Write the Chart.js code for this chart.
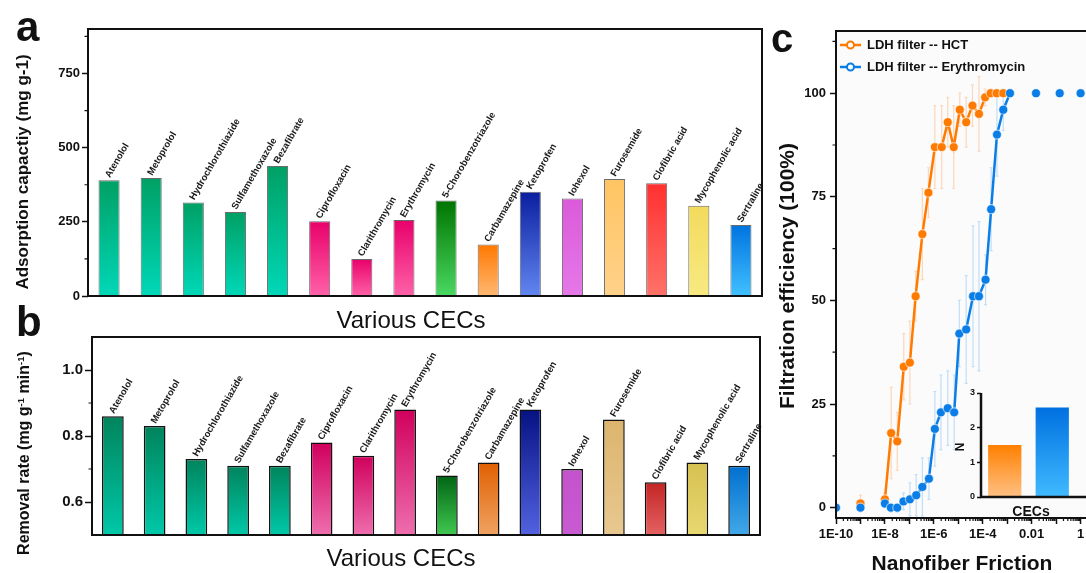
<!DOCTYPE html>
<html>
<head>
<meta charset="utf-8">
<script src="https://cdn.jsdelivr.net/npm/chart.js@4.4.1/dist/chart.umd.min.js"></script>
<style>
html, body { margin: 0; padding: 0; width: 1086px; height: 573px; overflow: hidden; background: #fff; }
body { position: relative; font-family: Arial, "Liberation Sans", sans-serif; color: #111; }
canvas { position: absolute; }
.t { position: absolute; white-space: nowrap; line-height: 1; }
.ctr { transform: translate(-50%, -50%); }
.rot { transform: translate(-50%, -50%) rotate(-90deg); }
.b { font-weight: bold; }
sup { font-size: 0.6em; vertical-align: 0.6em; }
</style>
</head>
<body>
<canvas id="chartA" style="left:0px;top:0px" width="780" height="300"></canvas>
<canvas id="chartB" style="left:0px;top:310px" width="780" height="240"></canvas>
<canvas id="chartC" style="left:770px;top:0px" width="330" height="573"></canvas>
<canvas id="chartN" style="left:950px;top:380px" width="136" height="130"></canvas>

<div class="t b" style="left:16px;top:6px;font-size:42px">a</div>
<div class="t b" style="left:16px;top:301px;font-size:42px">b</div>
<div class="t b" style="left:771px;top:18px;font-size:40px">c</div>
<div class="t b rot" style="left:22px;top:172px;font-size:17px">Adsorption capactiy (mg g-1)</div>
<div class="t b rot" style="left:24px;top:453px;font-size:16px">Removal rate (mg g<sup>-1</sup> min<sup>-1</sup>)</div>
<div class="t ctr" style="left:411px;top:320px;font-size:24px">Various CECs</div>
<div class="t ctr" style="left:401px;top:558px;font-size:24px">Various CECs</div>
<div class="t b rot" style="left:786px;top:276px;font-size:21px">Filtration efficiency (100%)</div>
<div class="t b ctr" style="left:962px;top:562px;font-size:21px">Nanofiber Friction</div>
<div class="t b rot" style="left:960px;top:447px;font-size:12px">N</div>
<div class="t b ctr" style="left:1031px;top:511px;font-size:14px">CECs</div>

<script>
// panel a / b
const cecs = ['Atenolol', 'Metoprolol', 'Hydrochlorothiazide', 'Sulfamethoxazole', 'Bezafibrate',
  'Ciprofloxacin', 'Clarithromycin', 'Erythromycin', '5-Chorobenzotriazole', 'Carbamazepine',
  'Ketoprofen', 'Iohexol', 'Furosemide', 'Clofibric acid', 'Mycophenolic acid', 'Sertraline'];
const adsorption = [390, 398, 315, 283, 438, 252, 125, 256, 322, 174, 351, 329, 394, 380, 304, 239];
const removal = [0.86, 0.83, 0.73, 0.71, 0.71, 0.78, 0.74, 0.88, 0.68, 0.72, 0.88, 0.70, 0.85, 0.66, 0.72, 0.71];
const adsorptionTicks = [0, 250, 500, 750];
const removalTicks = [0.6, 0.8, 1.0];
const removalTickLabels = ['0.6', '0.8', '1.0'];

// panel c
const hctFriction = [1e-9, 1e-8, 1.8e-8, 3.2e-8, 5.9e-8, 1.05e-7, 1.8e-7, 3.4e-7, 6e-7, 1.1e-6, 2.1e-6,
  3.7e-6, 6.5e-6, 1.15e-5, 2.1e-5, 3.8e-5, 7e-5, 1.25e-4, 2.1e-4, 3.7e-4, 6.9e-4];
const hctEff = [1, 2, 18, 16, 34, 35, 51, 66, 76, 87, 87, 93, 87, 96, 93, 97, 95, 99, 100, 100, 100];
const hctErr = [2, 1.5, 11, 7, 8, 10, 6, 11, 6, 10, 10, 6, 10, 4, 6, 5, 9, 2, 1, 1, 0.5];
const eryFriction = [1e-10, 1e-9, 1e-8, 1.75e-8, 3.2e-8, 5.75e-8, 1.05e-7, 1.9e-7, 3.4e-7, 6.3e-7,
  1.1e-6, 1.95e-6, 3.7e-6, 6.8e-6, 1.1e-5, 2.1e-5, 4e-5, 7e-5, 1.3e-4, 2.2e-4, 3.8e-4, 6.9e-4,
  1.3e-3, 1.5e-2, 1.4e-1, 1];
const eryEff = [0, 0, 1, 0, 0, 1.5, 2, 3, 5, 7, 19, 23, 24, 23, 42, 43, 51, 51, 55, 72, 90, 96, 100, 100, 100, 100];
const eryErr = [0, 0.5, 1, 1, 1, 2, 4, 5, 7, 5, 9, 9, 9, 9, 8, 13, 17, 18, 6, 10, 10, 5, 1, 0, 0, 0];
const hctJoined = [1, 20];   // first / last index joined by the line
const eryJoined = [2, 22];
const effTicks = [0, 25, 50, 75, 100];
const frictionTicks = [1e-10, 1e-8, 1e-6, 1e-4, 1e-2, 1];
const frictionTickLabels = ['1E-10', '1E-8', '1E-6', '1E-4', '0.01', '1'];

// inset
const insetCats = ['LDH filter -- HCT', 'LDH filter -- Erythromycin'];
const insetN = [1.5, 2.58];
const insetTicks = [0, 1, 2, 3];

// colours (top of bar -> bottom of bar)
const topA = ['#00a064', '#00a064', '#00a064', '#00a064', '#00a064', '#e8006a', '#e8006a', '#e8006a',
  '#007400', '#ff7800', '#0a1ea0', '#da5ada', '#ffc462', '#ff3030', '#f2da5c', '#0074e0'];
const botA = ['#00d8b8', '#00d8b8', '#00d8b8', '#00d8b8', '#00d8b8', '#ff62a8', '#ff62a8', '#ff62a8',
  '#4ad862', '#ffb872', '#6286f0', '#e678e8', '#ffd28a', '#ff7268', '#f8ea82', '#40c0ff'];
const topB = ['#00845c', '#00845c', '#00845c', '#00845c', '#00845c', '#d0005c', '#d0005c', '#d0005c',
  '#006414', '#e06000', '#061282', '#c452cc', '#dcb46c', '#c42424', '#d6c052', '#0070d0'];
const botB = ['#00c8a8', '#00c8a8', '#00c8a8', '#00c8a8', '#00c8a8', '#ee6eae', '#ee6eae', '#ee6eae',
  '#40c850', '#f0a262', '#5262e0', '#c85ad2', '#e8c890', '#e46262', '#e8d870', '#42a8e8'];
const orange = '#ff7a00';
const blue = '#0a7ee6';

Chart.defaults.font.family = 'Arial, "Liberation Sans", sans-serif';
Chart.defaults.color = '#111';

function barGradient(tops, bottoms) {
  return (ctx) => {
    const chart = ctx.chart;
    const area = chart.chartArea;
    if (!area || ctx.raw === undefined) return tops[ctx.dataIndex];
    const y = chart.scales.y.getPixelForValue(ctx.raw);
    const g = chart.ctx.createLinearGradient(0, y, 0, area.bottom);
    g.addColorStop(0, tops[ctx.dataIndex]);
    g.addColorStop(1, bottoms[ctx.dataIndex]);
    return g;
  };
}

function fixSize(prop, px) {
  return (s) => {
    s[prop] = px;
    s.paddingLeft = 0; s.paddingRight = 0; s.paddingTop = 0; s.paddingBottom = 0;
  };
}

// frame round the plot + minor ticks
const frame = {
  id: 'frame',
  beforeDatasetsDraw(chart, args, o) {
    if (!o.fill) return;
    const a = chart.chartArea;
    chart.ctx.save();
    chart.ctx.fillStyle = o.fill;
    chart.ctx.fillRect(a.left, a.top, a.width, a.height);
    chart.ctx.restore();
  },
  afterDraw(chart, args, o) {
    const { ctx, chartArea: a } = chart;
    ctx.save();
    ctx.strokeStyle = '#111';
    ctx.lineWidth = o.width || 2;
    ctx.beginPath();
    if (o.sides === 'lb') {
      ctx.moveTo(a.left, a.top); ctx.lineTo(a.left, a.bottom); ctx.lineTo(chart.width, a.bottom);
    } else {
      ctx.rect(a.left, a.top, a.width, a.height);
    }
    ctx.stroke();
    ctx.lineWidth = 1.2;
    ctx.beginPath();
    (o.minorY || []).forEach(v => {
      const y = chart.scales.y.getPixelForValue(v);
      ctx.moveTo(a.left - 3.5, y); ctx.lineTo(a.left, y);
    });
    (o.minorX || []).forEach(v => {
      const x = chart.scales.x.getPixelForValue(v);
      if (x > a.left && x < a.right) { ctx.moveTo(x, a.bottom); ctx.lineTo(x, a.bottom + 3); }
    });
    ctx.stroke();
    ctx.restore();
  }
};

// slanted names above the bars
const barNames = {
  id: 'barNames',
  afterDatasetsDraw(chart, args, o) {
    const ctx = chart.ctx;
    ctx.save();
    ctx.font = o.font;
    ctx.fillStyle = '#1a1a1a';
    chart.getDatasetMeta(0).data.forEach((bar, i) => {
      ctx.save();
      ctx.translate(bar.x + 1, bar.y - 2);
      ctx.rotate(-Math.PI / 3);
      ctx.fillText(chart.data.labels[i], 0, 0);
      ctx.restore();
    });
    ctx.restore();
  }
};

const tickFont = (size) => ({ weight: 'bold', size: size });

function barChart(id, values, tops, bottoms, yMin, yMax, ticks, labels, minor, pad, yWidth, xHeight) {
  return new Chart(document.getElementById(id), {
    type: 'bar',
    data: {
      labels: cecs,
      datasets: [{
        data: values,
        backgroundColor: barGradient(tops, bottoms),
        borderColor: id === 'chartA' ? 'rgba(70,70,70,0.8)' : '#111',
        borderWidth: id === 'chartA' ? 1 : 1.5,
        barPercentage: id === 'chartA' ? 0.5 : 0.52,
        categoryPercentage: 1
      }]
    },
    options: {
      responsive: false,
      animation: false,
      layout: { padding: pad },
      plugins: {
        legend: { display: false },
        tooltip: { enabled: false },
        frame: { width: 2, minorY: minor },
        barNames: { font: 'bold 9.5px Arial, "Liberation Sans", sans-serif' }
      },
      scales: {
        x: {
          ticks: { display: false },
          grid: { display: false },
          border: { display: false },
          afterFit: fixSize('height', xHeight)
        },
        y: {
          min: yMin,
          max: yMax,
          afterBuildTicks: (s) => { s.ticks = ticks.map(v => ({ value: v })); },
          afterFit: fixSize('width', yWidth),
          ticks: {
            font: tickFont(id === 'chartA' ? 13 : 15),
            color: '#111',
            padding: 2,
            callback: (v, i) => labels ? labels[i] : v
          },
          grid: { drawOnChartArea: false, tickLength: id === 'chartA' ? 6 : 7, color: '#111', tickWidth: 1.5 },
          border: { display: false }
        }
      }
    },
    plugins: [frame, barNames]
  });
}

barChart('chartA', adsorption, topA, botA, 0, 900, adsorptionTicks, null, [125, 375, 625, 875],
  { top: 29, right: 18, left: 0, bottom: 0 }, 88, 4);
barChart('chartB', removal, topB, botB, 0.5, 1.1, removalTicks, removalTickLabels, [0.7, 0.9],
  { top: 27, right: 20, left: 0, bottom: 0 }, 92, 15);

// panel c
function points(xs, ys, keep) {
  return xs.map((x, i) => ({ x: x, y: ys[i] })).filter((p, i) => keep(i));
}
const inside = (r) => (i) => i >= r[0] && i <= r[1];
const outside = (r) => (i) => i < r[0] || i > r[1];

const errorBars = {
  id: 'errorBars',
  beforeDatasetsDraw(chart, args, o) {
    const { ctx, scales } = chart;
    ctx.save();
    ctx.lineWidth = 1.2;
    o.series.forEach(s => {
      ctx.strokeStyle = s.color;
      ctx.beginPath();
      s.xs.forEach((xv, i) => {
        if (!s.err[i]) return;
        const x = scales.x.getPixelForValue(xv);
        const y1 = scales.y.getPixelForValue(s.ys[i] - s.err[i]);
        const y2 = scales.y.getPixelForValue(s.ys[i] + s.err[i]);
        ctx.moveTo(x, y1); ctx.lineTo(x, y2);
        ctx.moveTo(x - 1.5, y1); ctx.lineTo(x + 1.5, y1);
        ctx.moveTo(x - 1.5, y2); ctx.lineTo(x + 1.5, y2);
      });
      ctx.stroke();
    });
    ctx.restore();
  }
};

const lineLegend = {
  id: 'lineLegend',
  afterDraw(chart) {
    const { ctx, chartArea: a } = chart;
    ctx.save();
    ctx.font = 'bold 13px Arial, "Liberation Sans", sans-serif';
    ctx.textBaseline = 'middle';
    chart.data.datasets.filter(d => d.label).forEach((d, i) => {
      const y = a.top + 14 + i * 22;
      ctx.strokeStyle = d.borderColor;
      ctx.lineWidth = 2.5;
      ctx.beginPath(); ctx.moveTo(a.left + 4, y); ctx.lineTo(a.left + 25, y); ctx.stroke();
      ctx.fillStyle = '#fff';
      ctx.lineWidth = 2;
      ctx.beginPath(); ctx.arc(a.left + 14.5, y, 3.5, 0, Math.PI * 2); ctx.fill(); ctx.stroke();
      ctx.fillStyle = '#111';
      ctx.fillText(d.label, a.left + 31, y);
    });
    ctx.restore();
  }
};

const pointStyle = (c) => ({
  pointRadius: 4.5,
  pointBackgroundColor: c,
  pointBorderColor: 'rgba(255,255,255,0.55)',
  pointBorderWidth: 1.2
});

const minorFriction = [];
for (let k = -10; k < 1; k++) {
  for (let m = 2; m <= 9; m++) minorFriction.push(m * Math.pow(10, k));
}

new Chart(document.getElementById('chartC'), {
  type: 'line',
  data: {
    datasets: [
      Object.assign({ label: 'LDH filter -- HCT', data: points(hctFriction, hctEff, inside(hctJoined)),
        borderColor: orange, borderWidth: 2.5, order: 1 }, pointStyle(orange)),
      Object.assign({ label: 'LDH filter -- Erythromycin', data: points(eryFriction, eryEff, inside(eryJoined)),
        borderColor: blue, borderWidth: 2.5, order: 0 }, pointStyle(blue)),
      Object.assign({ label: '', data: points(hctFriction, hctEff, outside(hctJoined)),
        showLine: false, borderColor: orange, order: 1 }, pointStyle(orange)),
      Object.assign({ label: '', data: points(eryFriction, eryEff, outside(eryJoined)),
        showLine: false, borderColor: blue, order: 0 }, pointStyle(blue))
    ]
  },
  options: {
    responsive: false,
    animation: false,
    layout: { padding: { top: 31, right: 0, left: 0, bottom: 0 } },
    plugins: {
      legend: { display: false },
      tooltip: { enabled: false },
      frame: { width: 2, fill: '#fbfbfb', minorY: [12.5, 37.5, 62.5, 87.5, 112.5], minorX: minorFriction },
      errorBars: {
        series: [
          { xs: hctFriction, ys: hctEff, err: hctErr, color: 'rgba(255,150,70,0.35)' },
          { xs: eryFriction, ys: eryEff, err: eryErr, color: 'rgba(90,170,240,0.35)' }
        ]
      }
    },
    scales: {
      x: {
        type: 'logarithmic',
        min: 1e-10,
        max: Math.pow(10, 0.56),
        afterBuildTicks: (s) => {
          const t = [];
          for (let k = -10; k <= 0; k++) t.push({ value: Math.pow(10, k) });
          s.ticks = t;
        },
        afterFit: fixSize('height', 55),
        ticks: {
          autoSkip: false,
          maxRotation: 0,
          font: tickFont(13),
          color: '#111',
          padding: 3,
          callback: (v) => {
            const i = frictionTicks.findIndex(f => Math.abs(Math.log10(f) - Math.log10(v)) < 1e-6);
            return i >= 0 ? frictionTickLabels[i] : '';
          }
        },
        grid: { drawOnChartArea: false, tickLength: 6, color: '#111', tickWidth: 1.5 },
        border: { display: false }
      },
      y: {
        min: -2.5,
        max: 115,
        afterBuildTicks: (s) => { s.ticks = effTicks.map(v => ({ value: v })); },
        afterFit: fixSize('width', 66),
        ticks: { font: tickFont(13), color: '#111', padding: 4 },
        grid: { drawOnChartArea: false, tickLength: 6, color: '#111', tickWidth: 1.5 },
        border: { display: false }
      }
    }
  },
  plugins: [frame, errorBars, lineLegend]
});

// inset
new Chart(document.getElementById('chartN'), {
  type: 'bar',
  data: {
    labels: insetCats,
    datasets: [{
      data: insetN,
      backgroundColor: barGradient(['#ff8000', '#0070e0'], ['#ffc184', '#40baff']),
      borderWidth: 0,
      barPercentage: 0.7,
      categoryPercentage: 1
    }]
  },
  options: {
    responsive: false,
    animation: false,
    layout: { padding: { top: 13, right: 10, left: 0, bottom: 0 } },
    plugins: {
      legend: { display: false },
      tooltip: { enabled: false },
      frame: { width: 2.5, sides: 'lb' }
    },
    scales: {
      x: {
        ticks: { display: false },
        grid: { display: false },
        border: { display: false },
        afterFit: fixSize('height', 13)
      },
      y: {
        min: 0,
        max: 3,
        afterBuildTicks: (s) => { s.ticks = insetTicks.map(v => ({ value: v })); },
        afterFit: fixSize('width', 31),
        ticks: { font: tickFont(9), color: '#111', padding: 2 },
        grid: { drawOnChartArea: false, tickLength: 4, color: '#111', tickWidth: 1.5 },
        border: { display: false }
      }
    }
  },
  plugins: [frame]
});
</script>
</body>
</html>
